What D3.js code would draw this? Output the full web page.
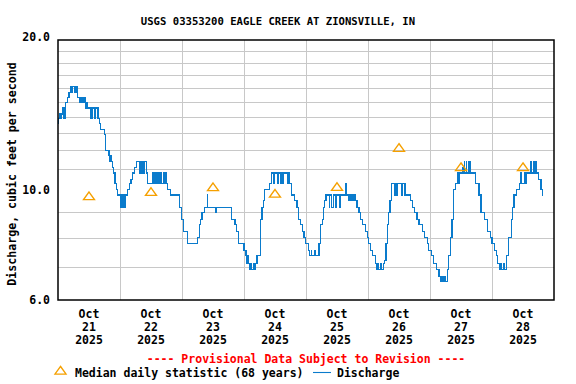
<!DOCTYPE html>
<html><head><meta charset="utf-8">
<script src="https://cdn.jsdelivr.net/npm/d3@7"></script>
<style>
body{margin:0;background:#fff;}
svg{display:block;}
text{font-family:"DejaVu Sans Mono",monospace;font-weight:bold;}
</style></head><body>
<svg id="c" width="576" height="384"></svg>
<script>
const title = "USGS 03353200 EAGLE CREEK AT ZIONSVILLE, IN";
const yLabel = "Discharge, cubic feet per second";
const provisional = "---- Provisional Data Subject to Revision ----";
const legendMedian = "Median daily statistic (68 years)";
const legendFlow = "Discharge";
const dayLabels = ["21","22","23","24","25","26","27","28"];
const yTickValues = [6, 10, 20];
const yGridValues = [7,8,9,11,12,13,14,15,16,17,18,19];
// median daily statistic (one per day, plotted at noon)
const medianValues = [9.64, 9.83, 10.05, 9.75, 10.06, 12.06, 11.03, 11.03];
// discharge change points: hours since 2025-10-21 00:00, cfs
const flowHours = [0,0.25,0.75,1,1.25,1.75,2,2.25,2.5,2.75,3,3.75,4.25,4.75,5.25,5.5,6.25,6.5,7,7.25,7.5,8.5,8.75,9,9.5,9.75,10.25,10.5,10.75,11.25,11.5,12.5,12.75,13.25,13.5,14.25,14.5,15.5,16,16.5,18,18.25,18.5,19.5,19.75,20,20.25,20.5,21,21.5,21.75,22,22.25,22.75,23,24.25,24.5,24.75,25,25.5,25.75,26,26.25,27,27.75,28.25,28.75,29.5,30.25,31.75,32,32.5,32.75,33.25,33.5,34.25,34.75,36.75,37,37.5,37.75,38.25,38.5,39,39.5,39.75,40,40.75,41,41.5,42,42.5,43.5,47,47.75,48.5,50,54,54.75,55.25,55.75,56.75,57.75,58,61,61.25,67.25,68.5,69.25,69.75,72,72.75,73,73.25,73.75,74.25,74.5,74.75,75.75,76,76.5,77,78.25,78.5,79,79.5,80,82,82.75,83.5,83.75,85,85.25,86,86.5,87,87.25,88.75,89,89.75,90.25,90.5,91.5,92.5,93.25,93.75,94.5,95.25,95.75,97,97.5,98,98.25,99.25,99.5,101,101.5,101.75,102.25,102.75,103.25,103.75,105,105.25,106,106.5,107.5,107.75,109,109.25,111.5,111.75,112.5,112.75,113.25,113.5,114,114.5,115,115.75,116.5,117.25,118,119,119.75,120.25,121,121.75,122.75,123.25,123.5,124,124.75,125,126,126.25,127,127.5,128,128.5,129,130.25,130.5,131,131.5,133,133.25,134,134.25,134.5,136.5,137.25,138,139,139.75,141,141.75,143,143.5,144.5,145.5,146.5,147.5,148,148.25,148.5,149,149.25,149.75,150,150.75,151.25,152,152.5,153,153.25,154,154.5,155.25,155.5,156.5,157,157.25,157.5,158,158.25,158.75,159,159.5,159.75,160.5,161.75,163,163.75,165,166.25,167.5,168,169,169.75,170.25,170.75,171.5,171.75,172.5,172.75,173.75,174.5,175.5,176,176.5,177.5,178.5,179.25,179.5,180.5,180.75,181.25,183,183.25,184,184.25,185,185.25,186,187,187.5,187.75];
const flowValues = [13.6,13.9,14.2,13.9,14.2,14.6,13.9,14.6,13.9,14.6,15.0,15.3,15.7,16.1,15.7,16.1,15.7,16.1,15.7,16.1,15.3,15.0,15.3,15.0,15.3,15.0,15.3,15.0,14.6,15.0,14.6,13.9,14.6,13.9,14.6,13.9,14.6,13.9,13.6,13.2,12.9,12.5,12.0,11.7,12.0,11.4,11.7,11.4,11.1,10.8,10.3,10.8,10.3,10.0,9.76,9.22,9.76,9.22,9.76,9.22,9.76,9.22,9.76,10.0,10.3,10.5,10.8,11.1,11.4,10.8,11.4,10.8,11.4,10.8,11.4,10.8,10.3,10.8,10.3,10.8,10.3,10.8,10.3,10.8,10.3,10.8,10.3,10.8,10.3,10.8,10.3,10.0,9.76,9.22,8.72,8.24,7.78,8.0,8.5,8.72,9.0,9.22,9.76,9.22,9.0,9.22,8.72,8.5,8.24,7.78,7.55,7.36,7.1,7.36,7.1,6.92,7.1,6.92,7.1,6.92,7.1,7.36,8.24,8.72,9.22,9.5,10.0,10.3,10.8,10.3,10.8,10.3,10.8,10.3,10.8,10.3,10.8,10.3,10.8,10.3,10.0,9.76,9.5,9.22,8.72,8.5,8.24,8.0,7.78,7.55,7.36,7.55,7.36,7.55,7.36,7.78,8.24,8.5,8.72,9.22,9.5,9.76,9.22,9.76,9.22,9.76,9.22,9.76,9.22,9.76,10.3,9.76,9.5,9.76,9.5,9.76,9.5,9.76,9.5,9.22,9.0,8.72,8.5,8.24,8.0,7.78,7.55,7.36,7.1,6.92,7.1,6.92,7.1,6.92,7.1,7.2,7.78,8.5,9.0,9.5,10.3,9.76,10.3,9.76,10.3,9.76,10.3,9.76,10.3,9.76,9.5,9.22,9.0,8.72,8.5,8.24,8.0,7.78,7.55,7.36,7.1,6.92,6.7,6.53,6.7,6.53,6.7,6.53,6.7,6.53,6.92,7.36,8.0,8.72,9.22,10.0,10.3,10.8,10.3,10.8,11.1,10.8,11.4,10.8,11.4,10.8,11.4,10.8,11.4,10.8,10.8,10.3,9.76,9.0,8.72,8.24,8.0,7.78,7.55,7.36,7.1,6.92,7.1,6.92,7.1,6.92,7.36,8.0,8.72,9.22,9.76,10.0,10.3,10.8,10.3,10.8,10.3,10.8,11.4,10.8,11.4,10.8,11.4,10.8,10.5,10.0,9.76,9.76];

const start = new Date(2025, 9, 21);
const end = new Date(2025, 9, 29);
const hrs = h => new Date(start.getTime() + h * 3600e3);

const svg = d3.select("#c");
const L = 58, R = 554, T = 40, B = 300;
const x = d3.scaleTime().domain([start, end]).range([L, R]);
const y = d3.scaleLog().domain([6, 20]).range([B, T]);

const grid = svg.append("g").attr("stroke", "#c8c8c8").attr("stroke-width", 1).attr("shape-rendering", "crispEdges");
grid.selectAll("line.h").data(yGridValues).join("line")
  .attr("x1", L).attr("x2", R).attr("y1", d => Math.round(y(d)) + 0.5).attr("y2", d => Math.round(y(d)) + 0.5);
const days = d3.timeDay.range(d3.timeDay.offset(start, 1), end);
grid.selectAll("line.v").data(days).join("line")
  .attr("y1", T).attr("y2", B).attr("x1", d => Math.round(x(d)) + 0.5).attr("x2", d => Math.round(x(d)) + 0.5);

// discharge
const flow = flowHours.map((h, i) => ({t: hrs(h), v: flowValues[i]}));
svg.append("path").datum(flow)
  .attr("fill", "none").attr("stroke", "#0a7bcc").attr("stroke-width", 1.2)
  .attr("shape-rendering", "crispEdges")
  .attr("d", d3.line().x(d => x(d.t)).y(d => y(d.v)).curve(d3.curveStepAfter));

// medians
const tri = d3.symbol().type(d3.symbolTriangle).size(40);
svg.append("g").selectAll("path").data(medianValues).join("path")
  .attr("d", tri)
  .attr("transform", (d, i) => `translate(${x(hrs(i * 24 + 12))},${y(d) - 0.5}) scale(1.15,0.92)`)
  .attr("fill", "none").attr("stroke", "#f5a000").attr("stroke-width", 1.3);

// frame
svg.append("rect").attr("x", L).attr("y", T).attr("width", R - L).attr("height", B - T)
  .attr("fill", "none").attr("stroke", "#000").attr("stroke-width", 1.5);

// y axis
const yAxis = d3.axisLeft(y).tickValues(yTickValues).tickFormat(d3.format(".1f")).tickSize(0).tickPadding(8);
const ya = svg.append("g").attr("transform", `translate(${L},0)`).call(yAxis);
ya.select(".domain").remove();
ya.selectAll("text").attr("font-family", "DejaVu Sans Mono").attr("font-weight", "bold")
  .attr("font-size", "11.5px").attr("fill", "#000").attr("dy", (d) => d === 20 ? "0.02em" : "0.32em");

// x labels
const xl = svg.append("g").selectAll("text").data(dayLabels).join("text")
  .attr("text-anchor", "middle").attr("font-size", "11.5px").attr("fill", "#000")
  .attr("transform", (d, i) => `translate(${x(hrs(i * 24 + 12))},0)`);
xl.append("tspan").attr("x", 0).attr("y", 318).text("Oct");
xl.append("tspan").attr("x", 0).attr("y", 331).text(d => d);
xl.append("tspan").attr("x", 0).attr("y", 344).text("2025");

svg.append("text").attr("x", 278).attr("y", 25).attr("text-anchor", "middle")
  .attr("font-size", "10.6px").text(title);
svg.append("text").attr("transform", "translate(16,174) rotate(-90)").attr("text-anchor", "middle")
  .attr("font-size", "11.6px").text(yLabel);
svg.append("text").attr("x", 306).attr("y", 363).attr("text-anchor", "middle")
  .attr("font-size", "11.5px").attr("fill", "#ff0000").text(provisional);

// legend
svg.append("path").attr("d", tri).attr("transform", "translate(60.5,371.5) scale(1.15,0.92)")
  .attr("fill", "none").attr("stroke", "#f5a000").attr("stroke-width", 1.3);
svg.append("text").attr("x", 75).attr("y", 376.5).attr("font-size", "11.5px").text(legendMedian);
svg.append("line").attr("x1", 313).attr("x2", 331).attr("y1", 372.5).attr("y2", 372.5)
  .attr("stroke", "#0a7bcc").attr("stroke-width", 1.1);
svg.append("text").attr("x", 337).attr("y", 376.5).attr("font-size", "11.5px").text(legendFlow);
</script></body></html>
